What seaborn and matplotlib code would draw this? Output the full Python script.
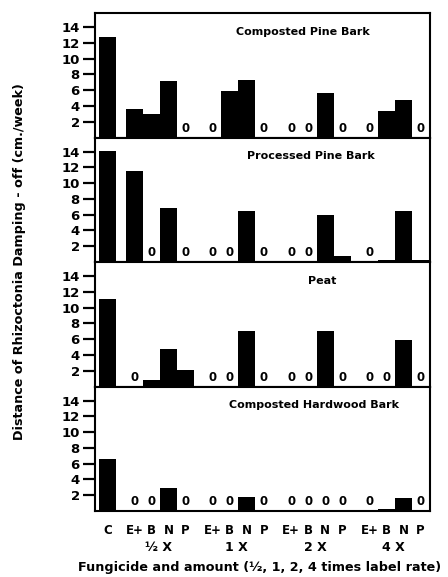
import pandas as pd
import matplotlib.pyplot as plt
import seaborn as sns

# Data (cm./week)
media = ['Composted Pine Bark', 'Processed Pine Bark', 'Peat', 'Composted Hardwood Bark']
treatments = ['E+', 'B', 'N', 'P']
rates = ['½ X', '1 X', '2 X', '4 X']

control = [12.8, 14.1, 11.1, 6.6]
# per medium: rates ½X, 1X, 2X, 4X, each with E+, B, N, P
pine_composted = [3.6, 3.0, 7.2, 0,   0, 5.9, 7.3, 0,   0, 0, 5.7, 0,    0, 3.3, 4.7, 0]
pine_processed = [11.5, 0, 6.9, 0,    0, 0, 6.5, 0,     0, 0, 6.0, 0.7,  0, 0.3, 6.5, 0.2]
peat           = [0, 0.85, 4.7, 2.1,  0, 0, 7.0, 0,     0, 0, 7.0, 0,    0, 0, 5.9, 0]
hardwood       = [0, 0, 2.9, 0,       0, 0, 1.8, 0,     0, 0, 0, 0,      0, 0.3, 1.6, 0]
series = [pine_composted, pine_processed, peat, hardwood]

# slot layout: control first, then four groups of four adjacent bars
group_start = 1.55
group_step = 4.6
title_x = [0.62, 0.645, 0.678, 0.655]

sns.set_style('white')
plt.rcParams['font.family'] = ['DejaVu Sans']
plt.rcParams['font.weight'] = 'bold'
plt.rcParams['axes.linewidth'] = 1.5
plt.rcParams['axes.edgecolor'] = 'black'
for k in ['text.color', 'axes.labelcolor', 'xtick.color', 'ytick.color']:
    plt.rcParams[k] = 'black'

labels = ['C']
pos = [0.0]
for g, r in enumerate(rates):
    for i, t in enumerate(treatments):
        labels.append(t)
        pos.append(group_start + g * group_step + i)

fig, axes = plt.subplots(4, 1, figsize=(4.48, 5.77), dpi=100, sharex=True)
fig.subplots_adjust(left=95/448, right=430/448, top=1-13/577, bottom=1-511/577, hspace=0)

for ax, name, tx, c, vals in zip(axes, media, title_x, control, series):
    df = pd.DataFrame({'pos': pos, 'value': [c] + vals, 'label': labels})
    sns.barplot(data=df, x='pos', y='value', native_scale=True, width=1.0,
                color='black', edgecolor='black', linewidth=0, errorbar=None,
                saturation=1, ax=ax)
    for x, v in zip(df['pos'], df['value']):
        if v == 0:
            ax.text(x, 0.75, '0', ha='center', va='baseline', fontsize=8.5, weight='bold')
    ax.set_ylim(0, 15.8)
    ax.set_yticks([2, 4, 6, 8, 10, 12, 14])
    ax.tick_params(axis='y', left=True, direction='out', length=8.5, width=1.6, pad=2.5,
                   labelsize=9.5)
    ax.tick_params(axis='x', length=0)
    ax.set_xlabel('')
    ax.set_ylabel('')
    ax.text(tx, 0.85, name, transform=ax.transAxes, ha='center', va='center',
            fontsize=8, weight='bold')

ax = axes[-1]
ax.set_xlim(-0.76, 18.9)
ax.set_xticks(pos)
ax.set_xticklabels(labels, fontsize=8.5, weight='bold')
ax.tick_params(axis='x', pad=9)
for g, r in enumerate(rates):
    ax.text(group_start + g * group_step + 1.4, -0.29, r, transform=ax.get_xaxis_transform(),
            ha='center', va='center', fontsize=9, weight='bold')

fig.text(78/448, 1-567/577, 'Fungicide and amount (½, 1, 2, 4 times label rate)',
         ha='left', va='center', fontsize=9.2, weight='bold')
fig.text(20/448, 1-262/577, 'Distance of Rhizoctonia Damping - off (cm./week)',
         rotation=90, ha='center', va='center', fontsize=9.2, weight='bold')

fig.savefig('out.png', dpi=100, facecolor='white')
